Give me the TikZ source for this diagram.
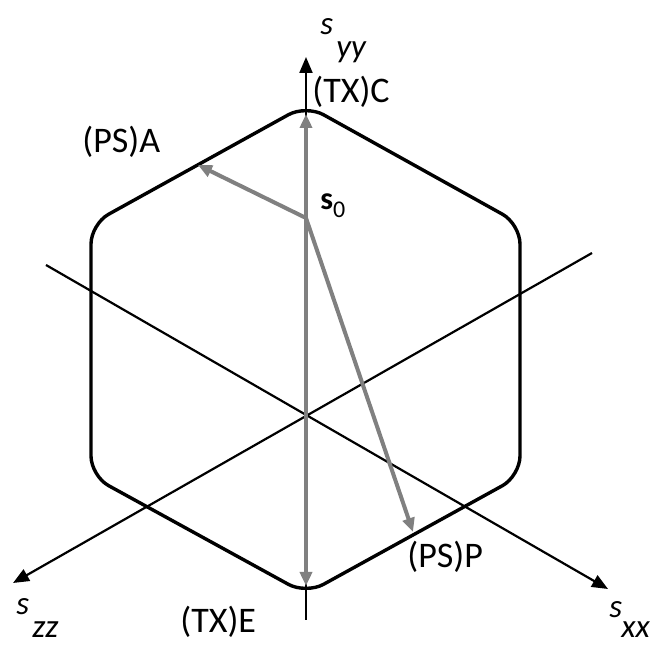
\documentclass[tikz,border=0pt]{standalone}
\usepackage{fontspec}
\setmainfont{Carlito}
\usetikzlibrary{arrows.meta}
\definecolor{graycol}{RGB}{128,128,128}
\begin{document}
\begin{tikzpicture}[x=0.5pt,y=-0.5pt,
  axis/.style={line width=1.1pt,-{Triangle[length=8pt,width=6.5pt]}},
  hexline/.style={line width=1.7pt},
  grayarrow/.style={line width=2pt,draw=graycol,-{Triangle[length=7pt,width=6pt,fill=graycol]}},
  lab/.style={inner sep=0pt,font=\fontsize{18}{20}\selectfont,anchor=base west},
  axlab/.style={inner sep=0pt,font=\fontsize{16.5}{18}\selectfont\itshape,anchor=base west}]
\useasboundingbox (0,0) rectangle (660,646);
% coordinates
\coordinate (O) at (306,416);
\coordinate (S0) at (306,218);
\coordinate (C) at (306,114);
\coordinate (E) at (306,586);
\coordinate (A) at (198,165);
\coordinate (P) at (413,532);
\coordinate (yyS) at (306,620);
\coordinate (yyE) at (306,57);
\coordinate (zzS) at (592,253);
\coordinate (zzE) at (13,583);
\coordinate (xxS) at (46,265);
\coordinate (xxE) at (608,589);
% axes
\draw[axis] (yyS) -- (yyE);
\draw[axis] (zzS) -- (zzE);
\draw[axis] (xxS) -- (xxE);
% hexagon
\draw[hexline,rounded corners=10pt] (91,350) -- (91,224) -- (306,105) -- (520,224) -- (520,476) -- (306,594) -- (91,476) -- cycle;
% gray arrows
\draw[grayarrow] (S0) -- (C);
\draw[grayarrow] (S0) -- (E);
\draw[grayarrow] (S0) -- (A);
\draw[grayarrow] (S0) -- (P);
% labels
\node[lab] (lC) at (312,103) {(TX)C};
\node[lab] (lA) at (82,153) {(PS)A};
\node[lab] (lP) at (407,568) {(PS)P};
\node[lab] (lE) at (180,633) {(TX)E};
\node[lab,font=\fontsize{16}{18}\selectfont] (ls0) at (320,210) {\textbf{s}\raisebox{-0.25em}{\fontsize{12}{14}\selectfont 0}};
\node[axlab] (syy) at (320,35) {s};
\node[axlab] (syysub) at (336,58) {yy};
\node[axlab] (szz) at (16,615) {s};
\node[axlab] (szzsub) at (32,638) {zz};
\node[axlab] (sxx) at (609,618) {s};
\node[axlab] (sxxsub) at (621,638) {xx};
\end{tikzpicture}
\end{document}
